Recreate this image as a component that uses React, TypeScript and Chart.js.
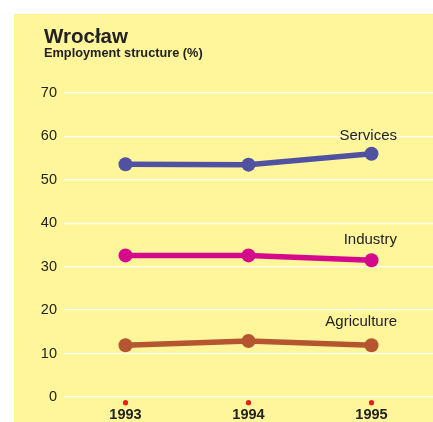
import React, { useEffect, useRef } from 'react';
import { Chart, registerables } from 'chart.js';

Chart.register(...registerables);

const years = ['1993', '1994', '1995'];
const services = [53.6, 53.5, 56.0];
const industry = [32.6, 32.6, 31.5];
const agriculture = [11.9, 12.9, 11.9];
const seriesNames = ['Services', 'Industry', 'Agriculture'];
const seriesColors = ['#5151a2', '#d4098c', '#b65631'];
const labelDy = [-18, -20, -23];
const chartTitle = 'Wrocław';
const chartSubtitle = 'Employment structure (%)';
const yMin = 0;
const yMax = 70;
const yStep = 10;

const FONT = '"Liberation Sans", Arial, Helvetica, sans-serif';
const BG = '#fff59b';

const decorPlugin = {
  id: 'decor',
  beforeDraw(chart: any) {
    const { ctx, width, height } = chart;
    ctx.save();
    ctx.fillStyle = '#ffffff';
    ctx.fillRect(0, 0, width, height);
    ctx.fillStyle = BG;
    ctx.fillRect(14, 14, width - 14, height - 14);
    ctx.restore();
  },
  afterDraw(chart: any) {
    const { ctx } = chart;
    ctx.save();
    ctx.fillStyle = '#222222';
    ctx.textAlign = 'left';
    ctx.textBaseline = 'alphabetic';
    ctx.font = `bold 20.5px ${FONT}`;
    ctx.fillText(chartTitle, 44, 42.7);
    ctx.font = `bold 12.75px ${FONT}`;
    ctx.fillText(chartSubtitle, 44, 57.3);

    // red tick dots
    const xs = chart.scales.x;
    ctx.fillStyle = '#e8201c';
    years.forEach((_, i) => {
      const x = xs.getPixelForValue(i);
      ctx.beginPath();
      ctx.arc(x, 402.7, 2.6, 0, Math.PI * 2);
      ctx.fill();
    });

    // series labels
    ctx.fillStyle = '#222222';
    ctx.font = `15px ${FONT}`;
    ctx.textAlign = 'right';
    ctx.textBaseline = 'middle';
    chart.data.datasets.forEach((ds: any, i: number) => {
      const meta = chart.getDatasetMeta(i);
      const pt = meta.data[meta.data.length - 1];
      ctx.fillText(ds.label, pt.x + 25.5, pt.y + labelDy[i]);
    });
    ctx.restore();
  },
};

export default function App() {
  const ref = useRef<HTMLCanvasElement>(null);
  useEffect(() => {
    if (!ref.current) return;
    const seriesData = [services, industry, agriculture];
    const chart = new Chart(ref.current, {
      type: 'line',
      data: {
        labels: years,
        datasets: seriesData.map((d, i) => ({
          label: seriesNames[i],
          data: d,
          borderColor: seriesColors[i],
          backgroundColor: seriesColors[i],
          pointBackgroundColor: seriesColors[i],
          pointBorderWidth: 0,
          pointRadius: 7,
          borderWidth: 5.5,
          tension: 0,
          fill: false,
          clip: false,
        })),
      },
      options: {
        responsive: false,
        animation: false,
        devicePixelRatio: 1,
        layout: { autoPadding: false, padding: { top: 93, left: 0, right: 0, bottom: 0 } },
        plugins: {
          legend: { display: false },
          title: { display: false },
          tooltip: { enabled: false },
        },
        scales: {
          x: {
            type: 'category',
            offset: true,
            grid: { display: false, drawTicks: false },
            border: { display: false },
            ticks: {
              color: '#222222',
              font: { family: FONT, size: 14.5, weight: 'bold' },
              padding: 9.3,
              maxRotation: 0,
            },
            afterFit(scale: any) {
              scale.height = 25;
            },
          },
          y: {
            min: yMin,
            max: yMax,
            grid: { color: '#ffffff', lineWidth: 1.3, drawTicks: false },
            border: { display: false },
            ticks: {
              stepSize: yStep,
              color: '#222222',
              font: { family: FONT, size: 14.5 },
              padding: 7,
            },
            afterFit(scale: any) {
              scale.width = 64;
            },
          },
        },
      },
      plugins: [decorPlugin],
    } as any);
    return () => chart.destroy();
  }, []);
  return (
    <div style={{ position: 'absolute', left: 0, top: 0, width: 433, height: 422 }}>
      <canvas ref={ref} width={433} height={422} style={{ display: 'block' }} />
    </div>
  );
}
